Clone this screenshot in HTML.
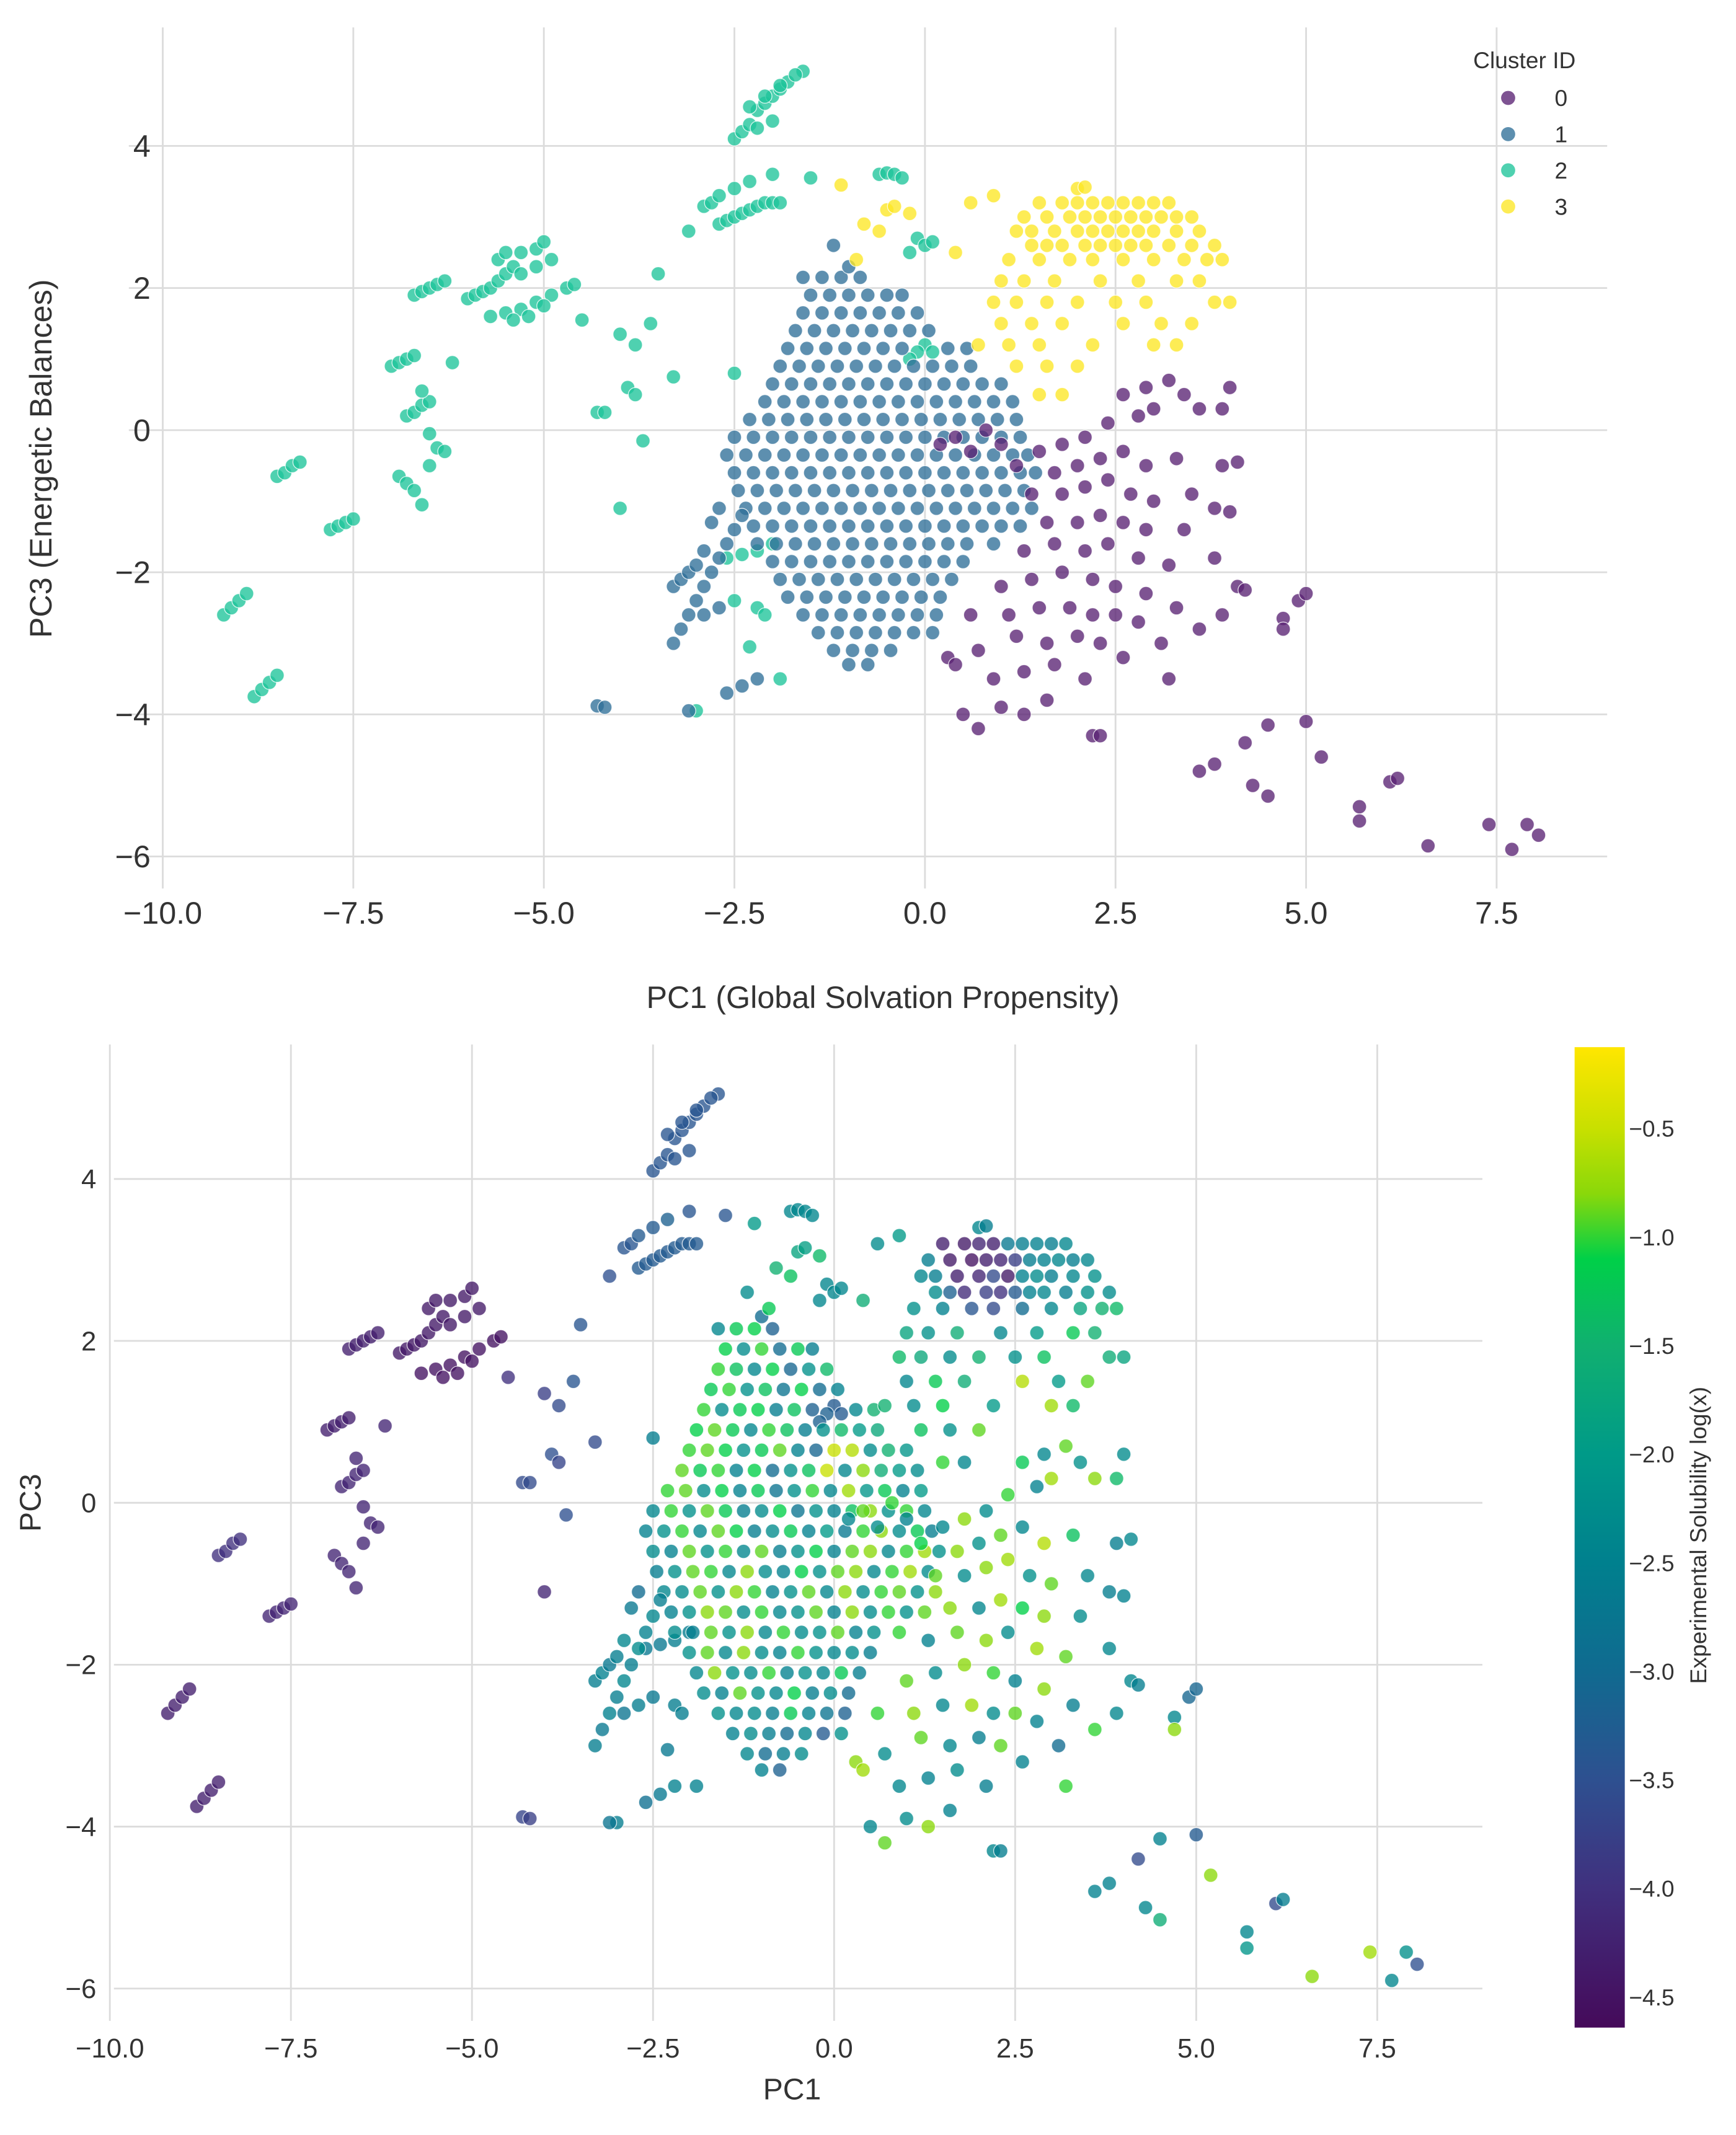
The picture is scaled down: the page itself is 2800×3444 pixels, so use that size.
<!DOCTYPE html>
<html><head><meta charset="utf-8"><style>
html,body{margin:0;padding:0;background:#fff;}
svg{display:block;font-family:"Liberation Sans",Arial,sans-serif;}
</style></head><body>
<svg id="chart" width="2800" height="3444" viewBox="0 0 1280 1574" xmlns="http://www.w3.org/2000/svg">
<defs><linearGradient id="cbar" x1="0" y1="1" x2="0" y2="0"></linearGradient></defs>
<g id="topPanel"></g>
<g id="botPanel"></g>
</svg>
<script>
// ---- data: [pc1, pc3, solubility] ----
const cluster2Points = [
[-9.2,-2.6,-4.3],[-9.1,-2.5,-4.3],[-9.0,-2.4,-4.3],[-8.9,-2.3,-4.3],
[-8.8,-3.75,-4.3],[-8.7,-3.65,-4.3],[-8.6,-3.55,-4.3],[-8.5,-3.45,-4.3],
[-8.5,-0.65,-4.0],[-8.4,-0.6,-4.0],[-8.3,-0.5,-4.0],[-8.2,-0.45,-4.0],
[-7.8,-1.4,-4.2],[-7.7,-1.35,-4.2],[-7.6,-1.3,-4.2],[-7.5,-1.25,-4.2],
[-7.0,0.9,-4.3],[-6.9,0.95,-4.3],[-6.8,1.0,-4.3],[-6.7,1.05,-4.3],
[-6.9,-0.65,-4.2],[-6.8,-0.75,-4.2],[-6.7,-0.85,-4.2],[-6.6,-1.05,-4.2],
[-6.8,0.2,-4.2],[-6.7,0.25,-4.2],[-6.6,0.35,-4.2],[-6.5,0.4,-4.2],[-6.6,0.55,-4.2],
[-6.5,-0.05,-4.2],[-6.4,-0.25,-4.2],[-6.3,-0.3,-4.2],[-6.5,-0.5,-4.2],[-6.2,0.95,-4.2],
[-6.7,1.9,-4.3],[-6.6,1.95,-4.3],[-6.5,2.0,-4.3],[-6.4,2.05,-4.3],[-6.3,2.1,-4.3],
[-6.0,1.85,-4.4],[-5.9,1.9,-4.4],[-5.8,1.95,-4.4],[-5.7,2.0,-4.4],[-5.6,2.1,-4.4],[-5.5,2.2,-4.4],[-5.4,2.3,-4.4],
[-5.6,2.4,-4.4],[-5.5,2.5,-4.4],[-5.3,2.5,-4.4],[-5.1,2.55,-4.4],[-5.0,2.65,-4.4],[-5.3,2.2,-4.4],[-5.1,2.3,-4.4],[-4.9,2.4,-4.4],
[-5.7,1.6,-4.5],[-5.5,1.65,-4.5],[-5.3,1.7,-4.5],[-5.1,1.8,-4.5],[-4.9,1.9,-4.5],[-4.7,2.0,-4.5],[-4.6,2.05,-4.5],[-5.4,1.55,-4.5],[-5.2,1.6,-4.5],[-5.0,1.75,-4.5],
[-4.5,1.55,-4.0],[-4.3,0.25,-3.6],[-4.2,0.25,-3.6],[-4.0,1.35,-3.8],[-3.9,0.6,-3.5],[-3.8,0.5,-3.7],[-3.8,1.2,-3.6],[-3.6,1.5,-3.4],[-3.7,-0.15,-3.5],[-4.0,-1.1,-4.2],
[-3.5,2.2,-3.4],[-3.3,0.75,-3.6],[-3.1,2.8,-3.5],[-2.9,3.15,-3.4],[-2.8,3.2,-3.4],[-2.7,3.3,-3.3],[-2.5,3.4,-3.3],[-2.3,3.5,-3.2],
[-2.7,2.9,-3.3],[-2.6,2.95,-3.3],[-2.5,3.0,-3.3],[-2.4,3.05,-3.3],[-2.3,3.1,-3.3],[-2.2,3.15,-3.3],[-2.1,3.2,-3.3],[-2.0,3.2,-3.3],[-1.9,3.2,-3.3],
[-1.5,3.55,-3.4],[-2.0,3.6,-3.4],
[-2.5,4.1,-3.4],[-2.4,4.2,-3.4],[-2.3,4.3,-3.4],[-2.2,4.5,-3.4],[-2.1,4.6,-3.4],[-2.0,4.7,-3.4],[-1.9,4.8,-3.4],[-1.8,4.9,-3.4],[-1.6,5.05,-3.4],
[-2.3,4.55,-3.4],[-2.1,4.7,-3.4],[-1.9,4.85,-3.4],[-1.7,5.0,-3.4],[-2.2,4.25,-3.4],[-2.0,4.35,-3.4],
[-2.5,0.8,-2.6],[-2.6,-1.8,-2.7],[-2.4,-1.75,-2.7],[-2.2,-1.7,-2.6],[-2.0,-1.6,-2.6],[-2.5,-2.4,-2.7],[-2.2,-2.5,-2.6],[-2.1,-2.6,-2.6],[-2.3,-3.05,-2.7],[-1.9,-3.5,-2.5],[-3.0,-3.95,-2.6],
[-0.6,3.6,-2.4],[-0.5,3.62,-2.4],[-0.4,3.6,-2.4],[-0.3,3.55,-2.4],[-0.1,2.7,-2.4],[0.0,2.6,-2.4],[0.1,2.65,-2.4],[-0.2,2.5,-2.4],[0.0,1.2,-3.3],[-0.1,1.1,-3.2],[-0.2,1.0,-3.2],[0.1,1.1,-3.3]
];
const cluster1Rows = [
[2.15,[-1.6,-1.35,-1.1,-0.85],[-2.4,-1.2,-1.1,-3.2]],
[1.9,[-1.5,-1.25,-1.0,-0.75,-0.5,-0.3],[-1.1,-2.3,-1.0,-3.0,-1.2,-2.6]],
[1.65,[-1.6,-1.35,-1.1,-0.85,-0.6,-0.35,-0.1],[-1.0,-1.3,-2.4,-1.1,-3.1,-2.2,-1.4]],
[1.4,[-1.7,-1.45,-1.2,-0.95,-0.7,-0.45,-0.2,0.05],[-1.2,-1.0,-2.2,-1.3,-2.8,-1.1,-3.0,-2.5]],
[1.15,[-1.8,-1.55,-1.3,-1.05,-0.8,-0.55,-0.3,0.3,0.55],[-1.0,-2.3,-1.2,-1.1,-2.6,-1.3,-3.2,-2.4,-1.5]],
[0.9,[-1.9,-1.65,-1.4,-1.15,-0.9,-0.65,-0.4,-0.15,0.1,0.35,0.6],[-1.1,-0.9,-1.2,-2.4,-1.0,-1.3,-2.6,-2.2,-1.4,-2.0,-1.7]],
[0.65,[-2.0,-1.75,-1.5,-1.25,-1.0,-0.75,-0.5,-0.25,0.0,0.25,0.5,0.75,1.0],[-1.0,-0.9,-1.1,-2.2,-1.2,-0.9,-2.5,-3.1,-0.5,-0.6,-2.3,-1.5,-2.1]],
[0.4,[-2.1,-1.85,-1.6,-1.35,-1.1,-0.85,-0.6,-0.35,-0.1,0.15,0.4,0.65,0.9,1.15],[-0.9,-1.2,-1.0,-2.5,-1.1,-3.0,-2.2,-1.3,-0.5,-2.4,-0.8,-1.6,-2.0,-2.3]],
[0.15,[-2.3,-2.05,-1.8,-1.55,-1.3,-1.05,-0.8,-0.55,-0.3,-0.05,0.2,0.45,0.7,0.95,1.2],[-1.0,-0.9,-2.3,-1.1,-2.5,-1.2,-2.8,-2.2,-1.0,-2.4,-0.7,-2.1,-1.2,-2.5,-2.0]],
[-0.1,[-2.5,-2.25,-2.0,-1.75,-1.5,-1.25,-1.0,-0.75,-0.5,-0.25,0.0,0.25,0.5,0.75,1.0,1.25],[-2.4,-1.0,-2.2,-0.9,-1.2,-2.6,-2.3,-1.1,-2.8,-2.2,-2.5,-1.3,-0.8,-2.2,-1.0,-2.4]],
[-0.35,[-2.6,-2.35,-2.1,-1.85,-1.6,-1.35,-1.1,-0.85,-0.6,-0.35,-0.1,0.15,0.4,0.65,0.9,1.15,1.35],[-2.5,-2.2,-1.0,-2.4,-0.9,-1.1,-2.6,-2.3,-1.2,-2.5,-2.0,-2.7,-1.0,-0.8,-2.3,-1.2,-2.6]],
[-0.6,[-2.5,-2.25,-2.0,-1.75,-1.5,-1.25,-1.0,-0.75,-0.5,-0.25,0.0,0.25,0.5,0.75,1.0,1.25,1.45],[-2.3,-2.5,-0.9,-2.2,-1.0,-2.4,-0.9,-2.6,-2.2,-1.1,-2.5,-0.9,-0.8,-2.4,-1.0,-0.7,-2.2]],
[-0.85,[-2.45,-2.2,-1.95,-1.7,-1.45,-1.2,-0.95,-0.7,-0.45,-0.2,0.05,0.3,0.55,0.8,1.05,1.3],[-2.6,-2.2,-0.9,-1.0,-2.4,-0.8,-2.3,-2.5,-1.1,-2.2,-0.9,-0.8,-2.4,-1.0,-0.7,-2.3]],
[-1.1,[-2.35,-2.1,-1.85,-1.6,-1.35,-1.1,-0.85,-0.6,-0.35,-0.1,0.15,0.4,0.65,0.9,1.15,1.4],[-2.4,-2.3,-0.9,-2.2,-0.8,-1.0,-2.5,-2.2,-0.9,-2.4,-0.8,-2.3,-1.0,-0.9,-2.2,-0.8]],
[-1.35,[-2.25,-2.0,-1.75,-1.5,-1.25,-1.0,-0.75,-0.5,-0.25,0.0,0.25,0.5,0.75,1.0,1.25],[-2.5,-2.2,-0.8,-0.9,-2.3,-1.0,-2.4,-2.2,-0.9,-2.5,-0.8,-2.3,-1.0,-2.2,-0.9]],
[-1.6,[-2.2,-1.95,-1.7,-1.45,-1.2,-0.95,-0.7,-0.45,-0.2,0.05,0.3,0.55,0.9],[-2.3,-2.6,-0.9,-2.2,-0.8,-2.4,-1.0,-2.3,-2.2,-0.9,-2.5,-2.2,-1.0]],
[-1.85,[-2.0,-1.75,-1.5,-1.25,-1.0,-0.75,-0.5,-0.25,0.0,0.25,0.5],[-2.2,-0.9,-2.4,-0.8,-2.3,-2.5,-1.0,-2.2,-2.4,-2.3,-2.6]],
[-2.1,[-1.9,-1.65,-1.4,-1.15,-0.9,-0.65,-0.4,-0.15,0.1,0.35],[-2.4,-0.8,-2.2,-2.3,-1.0,-2.5,-2.2,-2.4,-1.2,-2.6]],
[-2.35,[-1.8,-1.55,-1.3,-1.05,-0.8,-0.55,-0.3,-0.05,0.2],[-2.3,-2.5,-0.9,-2.2,-2.4,-1.1,-2.6,-2.3,-3.0]],
[-2.6,[-1.6,-1.35,-1.1,-0.85,-0.6,-0.35,-0.1,0.15],[-2.2,-2.4,-2.3,-2.6,-1.2,-2.5,-2.8,-3.2]],
[-2.85,[-1.4,-1.15,-0.9,-0.65,-0.4,-0.15,0.1],[-2.5,-2.3,-2.6,-3.0,-2.4,-3.3,-2.2]],
[-3.1,[-1.2,-0.95,-0.7,-0.45],[-2.4,-3.0,-2.6,-2.3]],
[-3.3,[-1.0,-0.75],[-2.5,-3.2]]
];
const cluster1Extra = [
[-3.3,-3.0,-2.6],[-3.2,-2.8,-2.7],[-3.1,-2.6,-2.5],[-3.0,-2.4,-2.6],[-2.9,-2.2,-2.4],[-2.8,-2.0,-2.6],[-2.7,-1.8,-2.3],[-2.6,-1.6,-2.5],[-2.5,-1.4,-2.4],[-2.4,-1.2,-2.6],
[-3.3,-2.2,-2.6],[-3.2,-2.1,-2.5],[-3.1,-2.0,-2.7],[-3.0,-1.9,-2.6],[-2.9,-1.7,-2.4],[-2.8,-1.3,-2.7],[-2.7,-1.1,-3.0],[-2.9,-2.6,-2.8],[-2.7,-2.5,-2.6],
[-2.6,-3.7,-2.9],[-2.4,-3.6,-2.7],[-2.2,-3.5,-2.5],[-4.3,-3.88,-3.7],[-4.2,-3.9,-3.8],[-3.1,-3.95,-2.8],[-1.2,2.6,-2.3],[-1.0,2.3,-3.0]
];
const cluster3Rows = [
[3.2,[1.5,1.8,2.0,2.2,2.4,2.6,2.8,3.0,3.2],[-4.3,-4.4,-4.2,-4.3,-2.7,-2.6,-2.5,-2.6,-2.4]],
[3.0,[1.3,1.6,1.9,2.1,2.3,2.5,2.7,2.9,3.1,3.3,3.5],[-2.6,-4.4,-4.5,-4.3,-4.2,-3.8,-2.6,-2.5,-2.4,-2.6,-2.4]],
[2.8,[1.2,1.4,1.7,2.0,2.2,2.4,2.6,2.8,3.0,3.3,3.6],[-2.4,-2.6,-4.3,-4.2,-3.6,-4.4,-2.5,-2.3,-2.6,-2.4,-2.2]],
[2.6,[1.4,1.6,1.8,2.1,2.3,2.5,2.7,2.9,3.2,3.5,3.8],[-2.3,-3.2,-4.1,-3.8,-4.0,-3.3,-2.5,-2.4,-2.6,-2.2,-2.3]],
[2.4,[1.1,1.5,1.9,2.2,2.6,3.0,3.4,3.7,3.9],[-2.2,-2.5,-3.4,-3.6,-3.0,-2.4,-1.8,-1.5,-1.4]],
[2.1,[1.0,1.3,1.7,2.3,2.8,3.3,3.6],[-1.8,-2.2,-1.6,-2.4,-2.0,-1.2,-1.5]],
[1.8,[0.9,1.2,1.6,2.0,2.5,2.9,3.8,4.0],[-1.4,-1.7,-2.3,-1.5,-2.2,-1.3,-1.6,-1.8]],
[1.5,[1.0,1.4,1.8,2.6,3.1,3.5],[-2.4,-1.2,-1.6,-0.6,-2.0,-0.9]],
[1.2,[0.7,1.1,1.5,2.2,3.0,3.3],[-1.5,-2.3,-1.1,-2.0,-0.7,-1.4]],
[0.9,[1.2,1.6,2.0],[-1.3,-2.2,-0.9]],
[0.5,[1.5,1.8],[-1.0,-2.4]]
];
const cluster3Extra = [[-1.1,3.45,-2.0],[-0.8,2.9,-1.5],[-0.6,2.8,-1.3],[-0.9,2.4,-1.2],[-0.5,3.1,-1.8],[0.4,2.5,-1.6],[0.6,3.2,-2.3],[0.9,3.3,-2.0],[-0.4,3.15,-1.9],[-0.2,3.05,-1.4],[2.0,3.4,-2.4],[2.1,3.42,-2.6]];
const cluster0Points = [
[0.2,-0.2,-2.4],[0.4,-0.1,-0.9],[0.6,-0.3,-2.3],[0.8,0.0,-1.0],[1.0,-0.2,-2.5],
[2.6,0.5,-1.2],[2.9,0.6,-2.4],[3.2,0.7,-0.9],[3.4,0.5,-2.2],[3.6,0.3,-0.8],[3.9,0.3,-1.4],[4.0,0.6,-2.3],[3.0,0.3,-0.7],[2.8,0.2,-2.5],[2.4,0.1,-1.0],[2.1,-0.1,-2.3],[1.8,-0.2,-0.8],[1.5,-0.3,-2.4],[1.2,-0.5,-1.1],
[1.7,-0.6,-0.8],[2.0,-0.5,-2.2],[2.3,-0.4,-0.9],[2.6,-0.3,-2.4],[2.9,-0.5,-0.6],[3.3,-0.4,-1.3],[3.9,-0.5,-2.6],[4.1,-0.45,-2.4],
[1.4,-0.9,-0.9],[1.8,-0.9,-2.3],[2.1,-0.8,-0.8],[2.4,-0.7,-0.7],[2.7,-0.9,-2.2],[3.0,-1.0,-0.9],[3.5,-0.9,-2.4],[3.8,-1.1,-2.6],[4.0,-1.15,-2.5],
[1.6,-1.3,-0.8],[2.0,-1.3,-2.4],[2.3,-1.2,-0.7],[2.6,-1.3,-1.1],[2.9,-1.4,-0.8],[3.4,-1.4,-2.3],
[1.3,-1.7,-2.5],[1.7,-1.6,-0.9],[2.1,-1.7,-0.8],[2.4,-1.6,-2.3],[2.8,-1.8,-0.7],[3.2,-1.9,-0.9],[3.8,-1.8,-2.4],
[1.0,-2.2,-0.9],[1.4,-2.1,-2.3],[1.8,-2.0,-0.8],[2.2,-2.1,-1.0],[2.5,-2.2,-2.5],[2.9,-2.3,-0.8],[3.3,-2.5,-2.6],[4.1,-2.2,-2.4],[4.2,-2.25,-2.6],
[0.6,-2.6,-1.0],[1.1,-2.6,-0.8],[1.5,-2.5,-2.4],[1.9,-2.5,-0.7],[2.2,-2.6,-2.3],[2.5,-2.6,-0.9],[2.8,-2.7,-2.5],[3.6,-2.8,-1.0],[3.9,-2.6,-2.4],
[0.3,-3.2,-0.8],[0.7,-3.1,-2.3],[1.2,-2.9,-0.9],[1.6,-3.0,-2.4],[2.0,-2.9,-2.6],[2.3,-3.0,-0.9],[2.6,-3.2,-2.5],[3.1,-3.0,-3.0],
[0.4,-3.3,-0.7],[0.9,-3.5,-2.4],[1.3,-3.4,-2.5],[1.7,-3.3,-2.3],[2.1,-3.5,-2.6],[3.2,-3.5,-1.0],
[0.7,-4.2,-0.9],[1.0,-3.9,-2.3],[1.3,-4.0,-0.8],[1.6,-3.8,-2.5],[2.2,-4.3,-2.4],[2.3,-4.3,-2.6],[0.5,-4.0,-2.4],
[3.6,-4.8,-2.5],[3.8,-4.7,-2.5],[4.2,-4.4,-3.6],[4.3,-5.0,-2.4],[4.5,-5.15,-1.6],[4.5,-4.15,-2.5],[5.0,-4.1,-3.3],[5.2,-4.6,-0.8],[4.9,-2.4,-3.1],[5.0,-2.3,-3.1],[4.7,-2.65,-2.4],[4.7,-2.8,-0.8],
[5.7,-5.3,-2.4],[5.7,-5.5,-2.1],[6.1,-4.95,-3.6],[6.2,-4.9,-2.6],[6.6,-5.85,-0.8],[7.4,-5.55,-0.7],[7.7,-5.9,-2.4],[7.9,-5.55,-2.2],[8.05,-5.7,-3.5]
];
const xTicks = [-10,-7.5,-5,-2.5,0,2.5,5,7.5];
const yTicks = [-6,-4,-2,0,2,4];
const cbarTicks = [-0.5,-1.0,-1.5,-2.0,-2.5,-3.0,-3.5,-4.0,-4.5];
const clusterIds = [0,1,2,3];

const clusterColors = ['#5a2273','#2f6f98','#1ec49a','#fde725'];
const cmapStops = [[-4.64,'#450a5a'],[-4.0,'#40307e'],[-3.5,'#2e5090'],[-3.0,'#106a90'],[-2.5,'#00808e'],[-2.0,'#009a88'],[-1.5,'#10b070'],[-1.1,'#00d048'],[-0.8,'#8ad80a'],[-0.5,'#c8e000'],[-0.125,'#ffe600']];
const SMIN=-4.64, SMAX=-0.125;
const R=5.2;

const NS='http://www.w3.org/2000/svg';
function mk(tag,attrs,parent){const e=document.createElementNS(NS,tag);for(const k in attrs)e.setAttribute(k,attrs[k]);parent.appendChild(e);return e;}
function hex(h){return [parseInt(h.substr(1,2),16),parseInt(h.substr(3,2),16),parseInt(h.substr(5,2),16)];}
function cmap(v){
  if(v<=cmapStops[0][0])return cmapStops[0][1];
  for(let i=1;i<cmapStops.length;i++){
    if(v<=cmapStops[i][0]){const a=cmapStops[i-1],b=cmapStops[i];const t=(v-a[0])/(b[0]-a[0]);const ca=hex(a[1]),cb=hex(b[1]);
      return 'rgb('+ca.map((c,j)=>Math.round(c+(cb[j]-c)*t)).join(',')+')';}
  }
  return cmapStops[cmapStops.length-1][1];
}
const pts=[];
cluster2Points.forEach(p=>pts.push([p[0],p[1],p[2],2]));
cluster1Rows.forEach(r=>r[1].forEach((x,i)=>pts.push([x,r[0],r[2][i],1])));
cluster1Extra.forEach(p=>pts.push([p[0],p[1],p[2],1]));
cluster3Rows.forEach(r=>r[1].forEach((x,i)=>pts.push([x,r[0],r[2][i],3])));
cluster3Extra.forEach(p=>pts.push([p[0],p[1],p[2],3]));
cluster0Points.forEach(p=>pts.push([p[0],p[1],p[2],0]));

const fmt=v=>(v<0?'\u2212':'')+Math.abs(v).toFixed(1);
const fmtI=v=>(v<0?'\u2212':'')+Math.abs(v);

function panel(g,sx,sy,box,opts){
  xTicks.forEach(t=>{const l=mk('line',{x1:sx(t),x2:sx(t),y1:box.t,y2:box.b,stroke:'#dcdcdc','stroke-width':1.3},g);
    
    
    const tx=mk('text',{x:sx(t),y:opts.xtY,'text-anchor':'middle','font-size':opts.fs,fill:'#333'},g);tx.textContent=fmt(t);
    
    });
  yTicks.forEach(t=>{const l=mk('line',{x1:box.l,x2:box.r,y1:sy(t),y2:sy(t),stroke:'#dcdcdc','stroke-width':1.3},g);
    
    
    const tx=mk('text',{x:opts.ytX,y:sy(t)+opts.fs*0.35,'text-anchor':'end','font-size':opts.fs,fill:'#333'},g);tx.textContent=fmtI(t);
    
    });
  pts.forEach(p=>{const c=mk('circle',{cx:sx(p[0]),cy:sy(p[1]),r:R,fill:opts.color(p),'fill-opacity':0.78,stroke:'#fff','stroke-width':0.6,'stroke-opacity':0.8},g);
    
    });
}
const topPanel=document.getElementById('topPanel');
const tx1=v=>682+56.2*v, ty1=v=>317-52.4*v;
panel(topPanel,tx1,ty1,{l:95,r:1185,t:20,b:655},{fs:23,xtY:681,ytX:111,color:p=>clusterColors[p[3]]});
let lbl=mk('text',{x:651,y:743,'text-anchor':'middle','font-size':23,fill:'#333'},topPanel);lbl.textContent='PC1 (Global Solvation Propensity)';


lbl=mk('text',{x:0,y:0,'text-anchor':'middle','font-size':23,fill:'#333',transform:'translate(38,338) rotate(-90)'},topPanel);lbl.textContent='PC3 (Energetic Balances)';


const leg=mk('g',{},topPanel);


lbl=mk('text',{x:1124,y:50,'text-anchor':'middle','font-size':17,fill:'#333'},leg);lbl.textContent='Cluster ID';


clusterIds.forEach((c,i)=>{const y=72+i*26.7;
  const m=mk('circle',{cx:1112,cy:y,r:5.2,fill:clusterColors[c],'fill-opacity':0.78},leg);
  
  
  const l=mk('text',{x:1151,y:y+6,'text-anchor':'middle','font-size':17,fill:'#333'},leg);l.textContent=String(c);
  
  });
const botPanel=document.getElementById('botPanel');
const bx=v=>615+53.4*v, by=v=>1108-59.7*v;
panel(botPanel,bx,by,{l:84,r:1093,t:770,b:1490},{fs:20,xtY:1517,ytX:71,color:p=>cmap(p[2])});
lbl=mk('text',{x:584,y:1548,'text-anchor':'middle','font-size':22,fill:'#333'},botPanel);lbl.textContent='PC1';


lbl=mk('text',{x:0,y:0,'text-anchor':'middle','font-size':22,fill:'#333',transform:'translate(30,1108) rotate(-90)'},botPanel);lbl.textContent='PC3';


const grad=document.getElementById('cbar');
cmapStops.forEach(s=>{mk('stop',{offset:((s[0]-SMIN)/(SMAX-SMIN)).toFixed(4),'stop-color':s[1]},grad);});
const cbRect=mk('rect',{x:1161,y:772,width:37,height:723,fill:'url(#cbar)'},botPanel);


const cbY=v=>772+(SMAX-v)/(SMAX-SMIN)*723;
cbarTicks.forEach(v=>{const l=mk('text',{x:1201,y:cbY(v)+6,'font-size':17,fill:'#333'},botPanel);l.textContent=fmt(v);
  
  });
lbl=mk('text',{x:0,y:0,'text-anchor':'middle','font-size':17,fill:'#333',transform:'translate(1258,1132) rotate(-90)'},botPanel);lbl.textContent='Experimental Solubility log(x)';


</script>
</body></html>
